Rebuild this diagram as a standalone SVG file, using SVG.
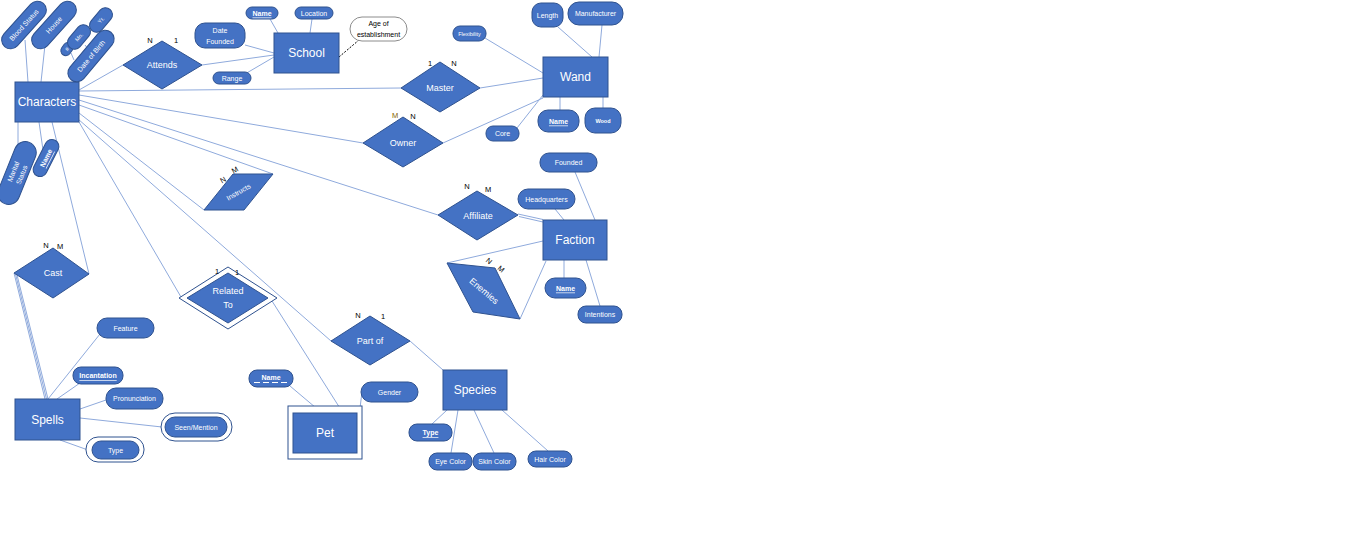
<svg xmlns="http://www.w3.org/2000/svg" width="1360" height="539" viewBox="0 0 1360 539">
<style>
.b{fill:#4472C4;stroke:#2F528F;stroke-width:1}
.w{fill:#fff;stroke:#2F528F;stroke-width:1}
.t{font-family:"Liberation Sans",Arial,sans-serif;fill:#fff;text-anchor:middle;dominant-baseline:central}
.e{font-size:12px}
.r{font-size:9px}
.a{font-size:7px}
.s{font-size:5.5px}
.u{text-decoration:underline}
.k{font-family:"Liberation Sans",Arial,sans-serif;fill:#000;font-size:7.5px;text-anchor:middle;dominant-baseline:central}
#connectors line{stroke:#8FAADC;stroke-width:1;fill:none}
</style>
<rect width="1360" height="539" fill="#fff"/>
<g id="connectors">
<line x1="25" y1="40" x2="28" y2="82"/>
<line x1="45" y1="45" x2="41" y2="82"/>
<line x1="18" y1="122" x2="18" y2="146"/>
<line x1="39" y1="122" x2="43" y2="150"/>
<line x1="71" y1="53" x2="74" y2="60"/>
<line x1="85" y1="45" x2="88" y2="49"/>
<line x1="79" y1="90" x2="123" y2="65"/>
<line x1="79" y1="91" x2="401" y2="88"/>
<line x1="79" y1="95" x2="363" y2="143"/>
<line x1="79" y1="100" x2="438" y2="215"/>
<line x1="79" y1="105" x2="273" y2="174"/>
<line x1="79" y1="113" x2="204" y2="210"/>
<line x1="52" y1="122" x2="89" y2="274"/>
<line x1="79" y1="122" x2="181" y2="297"/>
<line x1="78" y1="119" x2="331" y2="341"/>
<line x1="202" y1="65" x2="274" y2="55"/>
<line x1="270" y1="19" x2="278" y2="33"/>
<line x1="312" y1="19" x2="310" y2="33"/>
<line x1="245" y1="45" x2="274" y2="53"/>
<line x1="245" y1="74" x2="274" y2="57"/>
<line x1="480" y1="88" x2="543" y2="78"/>
<line x1="443" y1="143" x2="543" y2="98"/>
<line x1="558" y1="27" x2="592" y2="57"/>
<line x1="602" y1="25" x2="599" y2="57"/>
<line x1="485" y1="38" x2="543" y2="73"/>
<line x1="560" y1="97" x2="560" y2="110"/>
<line x1="603" y1="97" x2="603" y2="108"/>
<line x1="517" y1="128" x2="543" y2="95"/>
<line x1="518" y1="214" x2="543" y2="219.5"/>
<line x1="519" y1="216.5" x2="543" y2="222"/>
<line x1="575" y1="172" x2="595" y2="220"/>
<line x1="555" y1="209" x2="564" y2="220"/>
<line x1="564" y1="260" x2="564" y2="278"/>
<line x1="586" y1="260" x2="600" y2="306"/>
<line x1="543" y1="241" x2="447" y2="263"/>
<line x1="546" y1="261" x2="520" y2="319"/>
<line x1="14" y1="273" x2="45" y2="399"/>
<line x1="15.5" y1="274" x2="46.5" y2="399"/>
<line x1="17" y1="275" x2="48" y2="399"/>
<line x1="48" y1="399" x2="100" y2="334"/>
<line x1="57" y1="399" x2="80" y2="383"/>
<line x1="80" y1="409" x2="106" y2="400"/>
<line x1="80" y1="418" x2="162" y2="427"/>
<line x1="60" y1="440" x2="88" y2="450"/>
<line x1="272" y1="301" x2="343" y2="413"/>
<line x1="290" y1="386" x2="322" y2="413"/>
<line x1="362" y1="392" x2="357" y2="432"/>
<line x1="410" y1="341" x2="443" y2="370"/>
<line x1="447" y1="410" x2="432" y2="424"/>
<line x1="458" y1="410" x2="451" y2="453"/>
<line x1="474" y1="410" x2="494" y2="453"/>
<line x1="502" y1="410" x2="548" y2="451"/>
<line x1="339" y1="57" x2="359" y2="40" style="stroke:#000;stroke-dasharray:2 1.5"/>
</g>

<g id="characters">
<rect class="b" x="15" y="82" width="64" height="40"/>
<text class="t e" x="47" y="102">Characters</text>
</g>
<g id="attr-blood-status" transform="translate(24,25) rotate(-48)">
<rect class="b" x="-29" y="-9" width="58" height="18" rx="9"/>
<text class="t a" x="0" y="0">Blood Status</text>
</g>
<g id="attr-house" transform="translate(54,25) rotate(-48)">
<rect class="b" x="-29" y="-9" width="58" height="18" rx="9"/>
<text class="t a" x="0" y="0">House</text>
</g>
<g id="attr-num" transform="translate(67,49) rotate(-55)">
<rect class="b" x="-7" y="-5" width="14" height="10" rx="5"/>
<text class="t s" x="0" y="0">#</text>
</g>
<g id="attr-mo" transform="translate(79,37) rotate(-50)">
<rect class="b" x="-14" y="-7" width="28" height="14" rx="7"/>
<text class="t s" x="0" y="0">Mo.</text>
</g>
<g id="attr-yr" transform="translate(101,20) rotate(-50)">
<rect class="b" x="-14" y="-7" width="28" height="14" rx="7"/>
<text class="t s" x="0" y="0">Yr.</text>
</g>
<g id="attr-dob" transform="translate(91,56) rotate(-50)">
<rect class="b" x="-31" y="-9" width="62" height="18" rx="9"/>
<text class="t a" x="0" y="0">Date of Birth</text>
</g>
<g id="attr-marital" transform="translate(17,173) rotate(-68)">
<rect class="b" x="-33" y="-11" width="66" height="22" rx="11"/>
<text class="t a" x="0" y="-4">Marital</text>
<text class="t a" x="0" y="5">Status</text>
</g>
<g id="attr-char-name" transform="translate(46,158) rotate(-63)">
<rect class="b" x="-20" y="-7" width="40" height="14" rx="7"/>
<text class="t a u" x="0" y="0" font-weight="bold">Name</text>
</g>

<g id="attends">
<polygon class="b" points="123,65 162,41 202,65 162,89"/>
<text class="t r" x="162" y="65">Attends</text>
<text class="k" x="150" y="40">N</text>
<text class="k" x="176" y="40">1</text>
</g>

<g id="school">
<rect class="b" x="274" y="33" width="65" height="40"/>
<text class="t e" x="306.5" y="53">School</text>
</g>
<g id="attr-school-name">
<rect class="b" x="246" y="7" width="32" height="12" rx="6"/>
<text class="t a u" x="262" y="13" font-weight="bold">Name</text>
</g>
<g id="attr-location">
<rect class="b" x="295" y="7" width="38" height="12" rx="6"/>
<text class="t a" x="314" y="13">Location</text>
</g>
<g id="attr-date-founded">
<rect class="b" x="195" y="23" width="50" height="25" rx="10"/>
<text class="t a" x="220" y="30">Date</text>
<text class="t a" x="220" y="41">Founded</text>
</g>
<g id="attr-range">
<rect class="b" x="213" y="72" width="38" height="12" rx="6"/>
<text class="t a" x="232" y="78">Range</text>
</g>
<g id="attr-age">
<rect x="350" y="17" width="57" height="24" rx="12" fill="#fff" stroke="#8C8C8C" stroke-width="1"/>
<text class="k" style="font-size:7px" x="378.5" y="23.5">Age of</text>
<text class="k" style="font-size:7px" x="378.5" y="34">establishment</text>
</g>

<g id="master">
<polygon class="b" points="401,88 440,62 480,88 440,112"/>
<text class="t r" x="440" y="88">Master</text>
<text class="k" x="430" y="63">1</text>
<text class="k" x="454" y="63">N</text>
</g>
<g id="owner">
<polygon class="b" points="363,143 403,117 443,143 403,167"/>
<text class="t r" x="403" y="143">Owner</text>
<text class="k" x="395" y="115" style="fill:#7F6000">M</text>
<text class="k" x="413" y="116">N</text>
</g>

<g id="wand">
<rect class="b" x="543" y="57" width="65" height="40"/>
<text class="t e" x="575.5" y="77">Wand</text>
</g>
<g id="attr-length">
<rect class="b" x="532" y="3" width="31" height="24" rx="9"/>
<text class="t a" x="547.5" y="15">Length</text>
</g>
<g id="attr-manufacturer">
<rect class="b" x="568" y="2" width="55" height="23" rx="11"/>
<text class="t a" x="595.5" y="13.5">Manufacturer</text>
</g>
<g id="attr-flexibility">
<rect class="b" x="453" y="26" width="33" height="15" rx="7"/>
<text class="t s" x="469.5" y="33.5">Flexibility</text>
</g>
<g id="attr-wand-name">
<rect class="b" x="538" y="110" width="41" height="22" rx="10"/>
<text class="t a u" x="558.5" y="121" font-weight="bold">Name</text>
</g>
<g id="attr-wood">
<rect class="b" x="585" y="108" width="36" height="25" rx="10"/>
<text class="t s" x="603" y="120.5" font-weight="bold">Wood</text>
</g>
<g id="attr-core">
<rect class="b" x="486" y="126" width="33" height="15" rx="7"/>
<text class="t a" x="502.5" y="133.5">Core</text>
</g>

<g id="instructs">
<polygon class="b" points="233,174 273,174 244,210 204,210"/>
<text class="t a" x="238.5" y="192" transform="rotate(-30 238.5 192)">Instructs</text>
<text class="k" x="223" y="180" transform="rotate(-30 223 180)">N</text>
<text class="k" x="235" y="170" transform="rotate(-30 235 170)">M</text>
</g>

<g id="affiliate">
<polygon class="b" points="438,215 477,191 518,215 477,240"/>
<text class="t r" x="478" y="216">Affiliate</text>
<text class="k" x="467" y="186">N</text>
<text class="k" x="488" y="189">M</text>
</g>

<g id="faction">
<rect class="b" x="543" y="220" width="64" height="40"/>
<text class="t e" x="575" y="240">Faction</text>
</g>
<g id="attr-founded">
<rect class="b" x="540" y="153" width="57" height="19" rx="9"/>
<text class="t a" x="568.5" y="162.5">Founded</text>
</g>
<g id="attr-headquarters">
<rect class="b" x="518" y="189" width="57" height="20" rx="10"/>
<text class="t a" x="546.5" y="199">Headquarters</text>
</g>
<g id="attr-faction-name">
<rect class="b" x="545" y="278" width="41" height="20" rx="10"/>
<text class="t a u" x="565.5" y="288" font-weight="bold">Name</text>
</g>
<g id="attr-intentions">
<rect class="b" x="578" y="306" width="44" height="17" rx="8"/>
<text class="t a" x="600" y="314.5">Intentions</text>
</g>

<g id="enemies">
<polygon class="b" points="447,263 495,268 520,319 473,312"/>
<text class="t r" x="484" y="291" transform="rotate(40 484 291)">Enemies</text>
<text class="k" x="489" y="261" transform="rotate(40 489 261)">N</text>
<text class="k" x="501" y="269" transform="rotate(40 501 269)">M</text>
</g>

<g id="cast">
<polygon class="b" points="14,273 53,248 89,274 53,298"/>
<text class="t r" x="53" y="273">Cast</text>
<text class="k" x="46" y="245">N</text>
<text class="k" x="60" y="246">M</text>
</g>

<g id="related-to">
<polygon class="w" points="179,298 228,267 277,298 228,329"/>
<polygon class="b" points="187,298 228,273 268,298 228,323"/>
<text class="t r" x="228" y="291">Related</text>
<text class="t r" x="228" y="305">To</text>
<text class="k" x="217" y="271">1</text>
<text class="k" x="237" y="272">1</text>
</g>

<g id="spells">
<rect class="b" x="15" y="399" width="65" height="41"/>
<text class="t e" x="47.5" y="419.5">Spells</text>
</g>
<g id="attr-feature">
<rect class="b" x="97" y="318" width="57" height="20" rx="10"/>
<text class="t a" x="125.5" y="328">Feature</text>
</g>
<g id="attr-incantation">
<rect class="b" x="73" y="367" width="50" height="17" rx="8"/>
<text class="t a u" x="98" y="375.5" font-weight="bold">Incantation</text>
</g>
<g id="attr-pronunciation">
<rect class="b" x="106" y="388" width="57" height="21" rx="10"/>
<text class="t a" x="134.5" y="398.5">Pronunciation</text>
</g>
<g id="attr-seen-mention">
<rect class="w" x="161" y="413" width="71" height="28" rx="14"/>
<rect class="b" x="165" y="417" width="62" height="20" rx="10"/>
<text class="t a" x="196" y="427">Seen/Mention</text>
</g>
<g id="attr-spell-type">
<rect class="w" x="86" y="437" width="58" height="25" rx="12"/>
<rect class="b" x="92" y="441" width="47" height="18" rx="9"/>
<text class="t a" x="115.5" y="450">Type</text>
</g>

<g id="pet">
<rect class="w" x="288" y="406" width="74" height="53"/>
<rect class="b" x="293" y="413" width="64" height="40"/>
<text class="t e" x="325" y="433">Pet</text>
</g>
<g id="attr-pet-name">
<rect class="b" x="249" y="370" width="44" height="17" rx="8"/>
<text class="t a" x="271" y="377.5" font-weight="bold">Name</text>
<line x1="254" y1="382.5" x2="288" y2="382.5" stroke="#fff" stroke-width="1.2" stroke-dasharray="6 3"/>
</g>
<g id="attr-gender">
<rect class="b" x="361" y="382" width="57" height="20" rx="10"/>
<text class="t a" x="389.5" y="392">Gender</text>
</g>

<g id="part-of">
<polygon class="b" points="331,341 370,316 410,341 370,365"/>
<text class="t r" x="370" y="341">Part of</text>
<text class="k" x="358" y="315">N</text>
<text class="k" x="383" y="316">1</text>
</g>

<g id="species">
<rect class="b" x="443" y="370" width="64" height="40"/>
<text class="t e" x="475" y="390">Species</text>
</g>
<g id="attr-species-type">
<rect class="b" x="409" y="424" width="43" height="17" rx="8"/>
<text class="t a u" x="430.5" y="432.5" font-weight="bold">Type</text>
</g>
<g id="attr-eye-color">
<rect class="b" x="429" y="453" width="43" height="17" rx="8"/>
<text class="t a" x="450.5" y="461.5">Eye Color</text>
</g>
<g id="attr-skin-color">
<rect class="b" x="473" y="453" width="43" height="17" rx="8"/>
<text class="t a" x="494.5" y="461.5">Skin Color</text>
</g>
<g id="attr-hair-color">
<rect class="b" x="528" y="451" width="44" height="16" rx="8"/>
<text class="t a" x="550" y="459">Hair Color</text>
</g>
</svg>
